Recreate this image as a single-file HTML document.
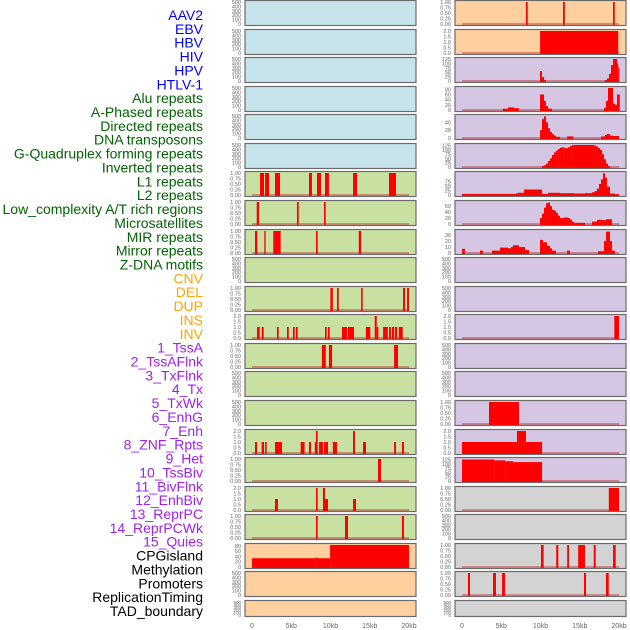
<!DOCTYPE html>
<html><head><meta charset="utf-8"><style>
body{margin:0;background:#fff;}
svg{display:block;font-family:"Liberation Sans",sans-serif;}
</style></head><body>
<svg id="chart" width="630" height="630" viewBox="0 0 630 630"></svg>
<script>
const trackLabels=["AAV2","EBV","HBV","HIV","HPV","HTLV-1","Alu repeats","A-Phased repeats","Directed repeats","DNA transposons","G-Quadruplex forming repeats","Inverted repeats","L1 repeats","L2 repeats","Low_complexity A/T rich regions","Microsatellites","MIR repeats","Mirror repeats","Z-DNA motifs","CNV","DEL","DUP","INS","INV","1_TssA","2_TssAFlnk","3_TxFlnk","4_Tx","5_TxWk","6_EnhG","7_Enh","8_ZNF_Rpts","9_Het","10_TssBiv","11_BivFlnk","12_EnhBiv","13_ReprPC","14_ReprPCWk","15_Quies","CPGisland","Methylation","Promoters","ReplicationTiming","TAD_boundary"];
const labelGroups=[6,13,5,15,5];
const groupColors=["#0000ff","#006400","#ffa500","#a020f0","#000000"];
const kbTicks=[0,5,10,15,20];
const kbTickLabels=["0","5kb","10kb","15kb","20kb"];
const tEmpty=[0,100,200,300,400,500], lEmpty=["0","100","200","300","400","500"];
const tBin=[0,0.25,0.5,0.75,1], lBin=["0.00","0.25","0.50","0.75","1.00"];
const tTwo=[0,0.5,1,1.5,2], lTwo=["0.0","0.5","1.0","1.5","2.0"];
const t125=[0,25,50,75,100,125], l125=["0","25","50","75","100","125"];
const t80=[0,20,40,60,80], l80=["0","20","40","60","80"];
const t40=[0,20,40], l40=["0","20","40"];
const t75=[0,25,50,75], l75=["0","25","50","75"];
const t60=[0,20,40,60], l60=["0","20","40","60"];
const t30=[0,10,20,30], l30=["0","10","20","30"];
// left column segments [startKb,endKb,value]
const L7=[[1.02,1.53,1],[1.66,2.17,1],[2.93,3.57,1],[7.26,7.64,1],[8.28,8.79,1],[9.3,9.8,1],[12.87,13.38,1],[17.45,18.34,1]];
const L8=[[0.6,0.9,1],[5.73,5.95,1],[9.17,9.39,1]];
const L9=[[0.38,0.68,1],[1.57,1.74,1],[2.71,3.65,1],[8.15,8.37,1],[13.6,13.9,1]];
const L11=[[9.98,10.3,1],[10.83,11.05,1],[13.9,14.1,1],[19.24,19.5,1],[19.75,20.0,1]];
const L12=[[0.64,0.98,1],[1.23,1.49,1],[3.18,3.4,1],[4.46,4.68,1],[5.22,5.44,1],[5.6,5.82,1],[9.3,9.52,1],[9.68,9.9,1],[11.46,12.1,1],[12.2,13.0,1],[14.5,15.07,1],[15.63,15.89,2],[15.89,16.1,1],[16.7,17.3,1],[17.45,17.7,1],[17.83,18.1,1],[18.2,18.5,1],[18.7,19.2,1]];
const L13=[[8.9,9.4,1],[9.8,10.2,1],[18.1,18.6,1]];
const L16=[[0.38,0.64,1],[1.23,1.53,1],[1.66,1.87,1],[2.93,3.82,1],[6.2,6.7,1],[7.26,7.52,1],[8.0,8.15,1],[8.15,8.37,2],[8.54,9.04,1],[9.17,9.68,1],[10.3,10.83,1],[12.87,13.12,2],[14.14,14.52,1],[18.1,18.34,1],[19.1,19.36,1]];
const L17=[[16.05,16.43,1]];
const L18=[[2.93,3.31,1],[8.15,8.37,2],[9.04,9.3,2],[9.3,9.68,1],[12.87,13.25,1]];
const L19=[[8.15,8.37,1],[11.85,12.23,1],[19.1,19.36,1]];
const L20=[[0,8.1,33],[8.1,8.3,36],[8.3,9.95,33],[9.95,20.0,83]];
// right column
const R1=[[8.15,8.37,1],[12.87,13.1,1],[19.24,19.46,1]];
const R2=[[9.95,19.9,2]];
const R3=[[9.94,10.19,56],[10.19,10.45,22],[10.45,10.7,5],[18.2,18.47,5],[18.47,18.73,15],[18.73,18.98,40],[18.98,19.24,90],[19.24,19.49,125],[19.49,19.75,125],[19.75,19.9,100],[19.9,20.05,75]];
const R4=[[5.22,5.86,5],[5.86,6.62,10],[6.62,7.26,7],[9.94,10.45,60],[10.45,10.7,35],[10.7,10.96,15],[10.96,11.46,5],[18.09,18.34,8],[18.34,18.6,35],[18.6,19.24,85],[19.24,19.49,25],[19.49,19.75,20],[19.75,20.1,60]];
const R5=[[9.94,10.19,20],[10.19,10.45,48],[10.45,10.7,55],[10.7,10.96,40],[10.96,11.21,25],[11.21,11.46,15],[11.46,11.72,10],[11.72,11.97,6],[11.97,12.48,3],[13.38,14.18,4],[17.71,18.22,4],[18.22,18.47,8],[18.47,18.85,10],[18.85,19.24,6],[19.24,20.0,5]];
const R6=[[10.19,10.45,5],[10.45,10.7,10],[10.7,10.96,20],[10.96,11.21,35],[11.21,11.46,50],[11.46,11.72,70],[11.72,11.97,85],[11.97,12.23,95],[12.23,12.48,105],[12.48,12.74,112],[12.74,12.99,115],[12.99,13.5,110],[13.5,13.76,115],[13.76,14.01,122],[14.01,14.27,127],[14.27,16.81,128],[16.81,17.07,125],[17.07,17.32,120],[17.32,17.58,110],[17.58,17.84,100],[17.84,18.09,75],[18.09,18.35,45],[18.35,18.6,20],[18.6,18.85,5]];
const R7=[[0,6.88,6],[6.88,7.13,9],[7.13,7.9,12],[7.9,10.19,30],[10.19,10.96,6],[10.96,12.48,12],[12.48,14.27,10],[14.27,15.67,8],[15.67,16.56,10],[16.56,16.94,15],[16.94,17.2,22],[17.2,17.45,35],[17.45,17.71,60],[17.71,17.96,85],[17.96,18.22,118],[18.22,18.47,95],[18.47,18.85,45],[18.85,19.49,8],[19.49,20.0,5]];
const R8=[[9.94,10.19,20],[10.19,10.45,35],[10.45,10.7,55],[10.7,10.96,70],[10.96,11.21,72],[11.21,11.46,60],[11.46,11.72,48],[11.72,11.97,45],[11.97,12.23,38],[12.23,12.48,28],[12.48,12.99,20],[12.99,13.5,22],[13.5,13.76,20],[13.76,14.01,15],[14.01,14.27,8],[14.27,15.67,4],[16.56,17.2,8],[17.2,17.84,14],[17.84,18.35,13],[18.35,19.11,16]];
const R9=[[0,0.38,7],[2.29,2.67,4],[3.82,4.84,4],[4.84,5.86,9],[5.86,6.24,8],[6.24,6.5,10],[6.5,7.26,13],[7.26,8.03,10],[8.03,8.54,5],[9.94,10.32,22],[10.32,10.83,18],[10.83,11.21,12],[11.21,11.46,8],[11.46,11.97,4],[13.38,13.76,4],[17.32,18.09,3],[18.09,18.35,20],[18.35,18.85,36],[18.85,19.11,20],[19.11,19.49,4]];
const R12=[[19.4,20.0,2]];
const R15=[[3.44,7.26,1]];
const R16=[[0,7.0,1],[7.0,8.15,2],[8.15,10.2,1]];
const R17=[[0,4.08,125],[4.08,5.5,120],[5.5,6.5,115],[6.5,10.2,110]];
const R18=[[18.7,20.0,1]];
const R20=[[10.06,10.4,1],[12.0,12.27,1],[13.4,13.63,1],[14.8,15.67,1],[16.78,17.03,1],[19.24,19.58,1]];
const R21=[[0.76,1.02,1],[3.95,4.33,1],[5.1,5.48,1],[15.54,15.8,1],[18.34,18.69,1]];

const BLUE="#c7e4eb",GREEN="#c8e1a2",ORANGE="#ffd09f",PURPLE="#d5c6e3",GREY="#d3d3d3";
const E=null;
// [col,row,bg,ticks,labels,ymax,segs]
const panels=[];
function P(c,r,bg,t,l,ym,s){panels.push({c,r,bg,t,l,ym,s});}
for(let r=0;r<6;r++)P(0,r,BLUE,tEmpty,lEmpty,500,E);
P(0,6,GREEN,tBin,lBin,1,L7);P(0,7,GREEN,tBin,lBin,1,L8);P(0,8,GREEN,tBin,lBin,1,L9);
P(0,9,GREEN,tEmpty,lEmpty,500,E);P(0,10,GREEN,tBin,lBin,1,L11);P(0,11,GREEN,tTwo,lTwo,2,L12);
P(0,12,GREEN,tBin,lBin,1,L13);P(0,13,GREEN,tEmpty,lEmpty,500,E);P(0,14,GREEN,tEmpty,lEmpty,500,E);
P(0,15,GREEN,tTwo,lTwo,2,L16);P(0,16,GREEN,tBin,lBin,1,L17);P(0,17,GREEN,tTwo,lTwo,2,L18);
P(0,18,GREEN,tBin,lBin,1,L19);P(0,19,ORANGE,t80,l80,83,L20);P(0,20,ORANGE,tEmpty,lEmpty,500,E);P(0,21,ORANGE,tEmpty,lEmpty,500,E);
P(1,0,ORANGE,tBin,lBin,1,R1);P(1,1,ORANGE,tTwo,lTwo,2,R2);P(1,2,PURPLE,t125,l125,125,R3);
P(1,3,PURPLE,t80,l80,85,R4);P(1,4,PURPLE,t40,l40,56,R5);P(1,5,PURPLE,t125,l125,128,R6);
P(1,6,PURPLE,t75,l75,120,R7);P(1,7,PURPLE,t60,l60,74,R8);P(1,8,PURPLE,t30,l30,37,R9);
P(1,9,PURPLE,tEmpty,lEmpty,500,E);P(1,10,PURPLE,tEmpty,lEmpty,500,E);P(1,11,PURPLE,tTwo,lTwo,2,R12);
P(1,12,PURPLE,tEmpty,lEmpty,500,E);P(1,13,PURPLE,tEmpty,lEmpty,500,E);P(1,14,PURPLE,tBin,lBin,1,R15);
P(1,15,PURPLE,tTwo,lTwo,2,R16);P(1,16,PURPLE,t125,l125,128,R17);P(1,17,GREY,tBin,lBin,1,R18);
P(1,18,GREY,tEmpty,lEmpty,500,E);P(1,19,GREY,tBin,lBin,1,R20);P(1,20,GREY,tBin,lBin,1,R21);P(1,21,GREY,tEmpty,lEmpty,500,E);

const svg=document.getElementById('chart');
const NS="http://www.w3.org/2000/svg";
function mk(tag,attrs,parent){const e=document.createElementNS(NS,tag);for(const k in attrs)e.setAttribute(k,attrs[k]);(parent||svg).appendChild(e);return e;}
const colX=[245,455],PW=171;
function rowTop(r){return Math.round(r*28.57)+0.5;}
function rowH(r){return r===21?16:25;}
function xScale(c,kb){return colX[c]+7+kb/20*157;}
function yScale(p,v){const top=rowTop(p.r),h=rowH(p.r);return top+h-1.5-(v/p.ym)*(h-3);}

// labels
let gi=0,cnt=0;
trackLabels.forEach((t,i)=>{
  const y=15+i*(596/(trackLabels.length-1));
  const tx=mk('text',{x:203,y:y+5,'text-anchor':'end','font-size':14,fill:groupColors[gi]});
  tx.textContent=t;
  
  
  cnt++;if(cnt>=labelGroups[gi]&&gi<labelGroups.length-1){gi++;cnt=0;}
});

panels.forEach(p=>{
  const g=mk('g',{});
  
  
  const x=colX[p.c],top=rowTop(p.r),h=rowH(p.r);
  const bg=mk('rect',{x:x,y:top,width:PW,height:h,fill:p.bg},g);
  
  
  if(p.s){
    const base=mk('line',{x1:xScale(p.c,0),x2:xScale(p.c,20),y1:yScale(p,0),y2:yScale(p,0),stroke:'rgba(190,30,30,0.55)','stroke-width':1.6},g);
    
    
    p.s.forEach(s=>{
      const x1=xScale(p.c,s[0]),x2=Math.min(xScale(p.c,s[1]),x+PW-1);
      const y1=Math.max(yScale(p,s[2]),top+0.5);
      const b=mk('rect',{x:x1,y:y1,width:Math.max(x2-x1,1.2),height:yScale(p,0)-y1+1,fill:'#ff0000'},g);
      
      
    });
  }
  const br=mk('rect',{x:x,y:top,width:PW,height:h,fill:'none',stroke:'#6b6b6b','stroke-width':1.2},g);
  
  
  p.t.forEach((v,i)=>{
    const tl=mk('text',{x:x-4,y:yScale(p,v)+2,'text-anchor':'end','font-size':h<20?4.5:5.5,fill:'#666'},g);
    tl.textContent=p.l[i];
    
    
  });
});
[0,1].forEach(c=>{
  kbTicks.forEach((k,i)=>{
    const t=mk('text',{x:xScale(c,k),y:628,'text-anchor':'middle','font-size':7,fill:'#666'});
    t.textContent=kbTickLabels[i];
    
    
  });
});
</script>
</body></html>
